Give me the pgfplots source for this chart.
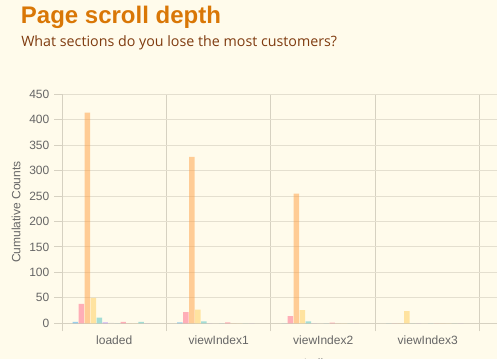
\documentclass[border=0pt]{standalone}
\usepackage{fontspec}
\setmainfont{Liberation Sans}
\newfontfamily\subfont{Open Sans}
\usepackage{pgfplots}
\pgfplotsset{compat=1.18}
\usepackage{pgfplotstable}
\definecolor{bg}{HTML}{FFFBEB}
\definecolor{titlecol}{HTML}{D97706}
\definecolor{subcol}{HTML}{7F3B0F}
\definecolor{gridcol}{RGB}{228,223,207}
\definecolor{axiscol}{RGB}{214,209,193}
\definecolor{tickcol}{HTML}{666666}
\definecolor{cblue}{RGB}{54,162,235}
\definecolor{cpink}{RGB}{255,99,132}
\definecolor{corange}{RGB}{255,159,64}
\definecolor{cyellow}{RGB}{255,205,86}
\definecolor{cteal}{RGB}{75,192,192}
\definecolor{cpurple}{RGB}{153,102,255}
\definecolor{cgrey}{RGB}{201,203,207}
\pgfplotstableread{
x s0 s1 s2 s3 s4 s5 s6 s7 s8 s9 s10 s11 s12 s13
0 3 38 414 50 11 2 1 0 3 0 0 3 0 0
1 2 22 327 27 4 0 0 0 2 0 0 0 0 0
2 0 14 255 26 4 0 0 0 1.5 0 0 0 0 0
3 0 0 0 24 0 0 0 0 0 0 0 0 0 0
}\data
\begin{document}
\begin{tikzpicture}
\fill[bg] (0,0) rectangle (372.75pt,269.25pt);
\begin{axis}[
  at={(46.5pt,26.775pt)}, anchor=south west,
  scale only axis, width=391.875pt, height=171.75pt,
  xmin=-0.5, xmax=4.5, ymin=0, ymax=450,
  axis x line*=bottom, axis y line*=left,
  axis line style={draw=axiscol, line width=0.75pt},
  xtick={0,1,2,3},
  xticklabels={loaded,viewIndex1,viewIndex2,viewIndex3},
  minor xtick={-0.5,0.5,1.5,2.5,3.5,4.5},
  xminorgrids=true, ymajorgrids=true,
  ytick={0,50,...,450},
  tick align=outside,
  major tick length=6pt, minor tick length=6pt,
  major x tick style={draw=none},
  tick style={draw=axiscol, line width=0.75pt},
  minor x tick style={draw=axiscol, line width=0.75pt},
  grid style={draw=gridcol, line width=0.75pt},
  minor grid style={draw=axiscol, line width=0.75pt},
  ticklabel style={font=\fontsize{9}{10}\selectfont, text=tickcol},
  /pgf/number format/assume math mode=true,
  clip=false,
  every axis plot/.append style={ybar, fill opacity=0.5, draw=none, bar width=0.0514286},
]
\addplot[fill=cblue,   bar shift=-0.371429] table[x=x, y=s0]{\data};
\addplot[fill=cpink,   bar shift=-0.314286] table[x=x, y=s1]{\data};
\addplot[fill=corange, bar shift=-0.257143] table[x=x, y=s2]{\data};
\addplot[fill=cyellow, bar shift=-0.2]      table[x=x, y=s3]{\data};
\addplot[fill=cteal,   bar shift=-0.142857] table[x=x, y=s4]{\data};
\addplot[fill=cpurple, bar shift=-0.085714] table[x=x, y=s5]{\data};
\addplot[fill=cgrey,   bar shift=-0.028571] table[x=x, y=s6]{\data};
\addplot[fill=cblue,   bar shift=0.028571]  table[x=x, y=s7]{\data};
\addplot[fill=cpink,   bar shift=0.085714]  table[x=x, y=s8]{\data};
\addplot[fill=corange, bar shift=0.142857]  table[x=x, y=s9]{\data};
\addplot[fill=cyellow, bar shift=0.2]       table[x=x, y=s10]{\data};
\addplot[fill=cteal,   bar shift=0.257143]  table[x=x, y=s11]{\data};
\addplot[fill=cpurple, bar shift=0.314286]  table[x=x, y=s12]{\data};
\addplot[fill=cgrey,   bar shift=0.371429]  table[x=x, y=s13]{\data};
\end{axis}
\node[anchor=base west, inner sep=0pt, text=titlecol, font=\bfseries\fontsize{18}{20}\selectfont] at (15.5pt,251.25pt) {Page scroll depth};
\node[anchor=base west, inner sep=0pt, text=subcol, font=\subfont\fontsize{10.7}{12}\selectfont] at (15.75pt,234.2pt) {What sections do you lose the most customers?};
\node[rotate=90, inner sep=0pt, text=tickcol, font=\fontsize{9}{10}\selectfont] at (12pt,110.25pt) {Cumulative Counts};
\node[anchor=north, inner sep=0pt, text=tickcol, font=\fontsize{9}{10}\selectfont] at (242.25pt,0.2pt) {Indices};
\pgfresetboundingbox
\path[use as bounding box] (0,0) rectangle (372.75pt,269.25pt);
\end{tikzpicture}
\end{document}
